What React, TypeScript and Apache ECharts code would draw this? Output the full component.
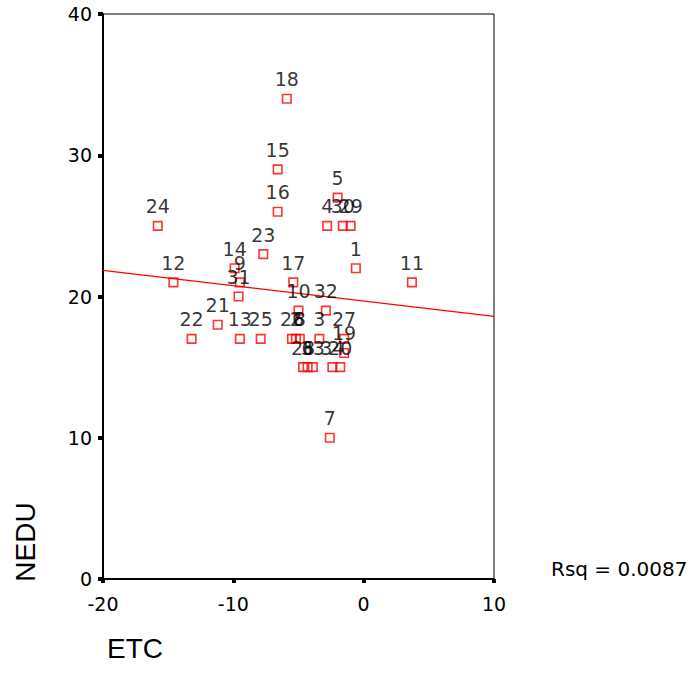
import React, { useEffect, useRef } from "react";
import * as echarts from "echarts";

const caseLabels = ["1","3","4","5","7","9","10","11","12","13","14","15","16","17","18","19","21","22","23","24","25","27","29","30","31","32","26","2","8","28","6","33","34","20"];
const etcValues = [-0.6,-3.4,-2.8,-2.0,-2.6,-9.5,-5.0,3.7,-14.6,-9.5,-9.9,-6.6,-6.6,-5.4,-5.9,-1.5,-11.2,-13.2,-7.7,-15.8,-7.9,-1.5,-1.0,-1.6,-9.6,-2.9,-5.5,-5.2,-4.9,-4.65,-4.3,-3.9,-2.4,-1.8];
const neduValues = [22,17,25,27,10,21,19,21,21,17,22,29,26,21,34,16,18,17,23,25,17,17,25,25,20,19,17,17,17,15,15,15,15,15];
const fitLine = [[-20, 21.85], [10, 18.6]];
const xTicks = [-20, 10, 10];
const yTicks = [0, 40, 10];

const NUMFONT = "'DejaVu Sans', sans-serif";
const TITLEFONT = "'Liberation Sans', Arial, sans-serif";

export default function App() {
  const ref = useRef<HTMLDivElement>(null);
  useEffect(() => {
    if (!ref.current) return;
    const chart = echarts.init(ref.current, undefined, { renderer: "svg" });
    const pts = etcValues.map((x, i) => ({ value: [x, neduValues[i]], name: caseLabels[i] }));
    chart.setOption({
      animation: false,
      backgroundColor: "#fff",
      grid: {
        left: 103, top: 14, width: 391, height: 565,
        show: true, borderColor: "#000", borderWidth: 1, backgroundColor: "transparent",
      },
      xAxis: {
        type: "value", min: xTicks[0], max: xTicks[1], interval: xTicks[2],
        axisLine: { show: true, onZero: false, lineStyle: { color: "#000", width: 2 } },
        axisTick: { show: true, length: 4, lineStyle: { color: "#000", width: 4 } },
        axisLabel: { color: "#000", fontSize: 19, fontFamily: NUMFONT, margin: 15 },
        splitLine: { show: false },
      },
      yAxis: {
        type: "value", min: yTicks[0], max: yTicks[1], interval: yTicks[2],
        axisLine: { show: true, onZero: false, lineStyle: { color: "#000", width: 2 } },
        axisTick: { show: true, length: 5, lineStyle: { color: "#000", width: 4 } },
        axisLabel: { color: "#000", fontSize: 19, fontFamily: NUMFONT, margin: 11 },
        splitLine: { show: false },
      },
      series: [
        {
          type: "line",
          data: fitLine,
          showSymbol: false,
          symbol: "none",
          lineStyle: { color: "#ff0000", width: 1.3 },
          z: 1,
        },
        {
          type: "scatter",
          data: pts,
          symbol: "rect",
          symbolSize: 8.5,
          itemStyle: { color: "transparent", borderColor: "#ff0000", borderWidth: 1.6 },
          label: {
            show: true, position: "top", distance: 5,
            formatter: (p: any) => p.name,
            color: "#000", fontSize: 19, fontFamily: NUMFONT,
          },
          labelLayout: { hideOverlap: false },
          z: 2,
        },
      ],
      graphic: [
        {
          type: "text", x: 25, y: 542, rotation: Math.PI / 2,
          style: { text: "NEDU", fontSize: 28, fontFamily: TITLEFONT, fill: "#000", align: "center", verticalAlign: "middle" },
        },
        {
          type: "text", x: 135, y: 648,
          style: { text: "ETC", fontSize: 28, fontFamily: TITLEFONT, fill: "#000", align: "center", verticalAlign: "middle" },
        },
        {
          type: "text", x: 551, y: 569,
          style: { text: "Rsq = 0.0087", fontSize: 20, fontFamily: NUMFONT, fill: "#000", align: "left", verticalAlign: "middle" },
        },
      ],
    });
    return () => chart.dispose();
  }, []);
  return <div ref={ref} style={{ width: 700, height: 685, position: "absolute", left: 0, top: 0 }} />;
}
